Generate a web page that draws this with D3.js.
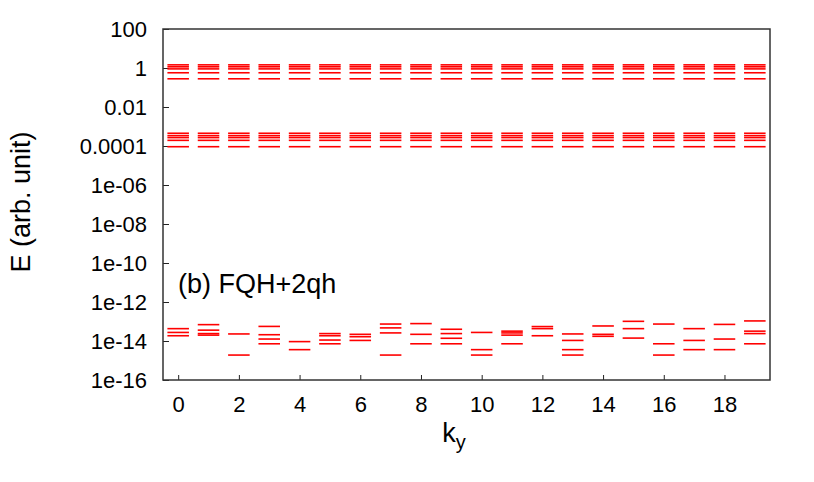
<!DOCTYPE html>
<html><head><meta charset="utf-8">
<script src="https://cdn.jsdelivr.net/npm/d3@7"></script>
<style>body{margin:0;background:#fff}svg{display:block}text{font-family:"Liberation Sans",Arial,Helvetica,sans-serif;fill:#000}</style>
</head><body>
<svg id="c" width="814" height="482"></svg>
<script>
const ky = [0,1,2,3,4,5,6,7,8,9,10,11,12,13,14,15,16,17,18,19];
const xTickLabels = [0,2,4,6,8,10,12,14,16,18];
const yTickValues = [1e2,1,1e-2,1e-4,1e-6,1e-8,1e-10,1e-12,1e-14,1e-16];
const yTickLabels = ["100","1","0.01","0.0001","1e-06","1e-08","1e-10","1e-12","1e-14","1e-16"];
// upper group of levels (same at every ky)
const topLevels = [1.45, 1.15, 0.9, 0.57, 0.28];
// middle group of levels (same at every ky)
const midLevels = [4.5e-4, 3.4e-4, 2.7e-4, 1.95e-4, 0.92e-4];
// lowest levels per ky
const lowLevels = [
  [4.3e-14, 2.75e-14, 1.86e-14],
  [6.9e-14, 3.6e-14, 2.4e-14, 2.0e-14],
  [2.3e-14, 1.9e-15],
  [5.6e-14, 2.1e-14, 1.26e-14, 7.2e-15],
  [9.3e-15, 3.6e-15],
  [2.4e-14, 1.86e-14, 1.12e-14, 7.2e-15],
  [2.2e-14, 1.66e-14, 1.07e-14],
  [7.4e-14, 4.7e-14, 2.6e-14, 1.9e-15],
  [7.8e-14, 2.2e-14, 7.2e-15],
  [4.0e-14, 2.4e-14, 1.38e-14, 7.2e-15],
  [2.75e-14, 3.6e-15, 1.9e-15],
  [3.2e-14, 2.6e-14, 2.0e-14, 7.2e-15],
  [5.5e-14, 4.3e-14, 1.86e-14],
  [2.3e-14, 1.07e-14, 3.6e-15, 1.9e-15],
  [5.9e-14, 2.2e-14, 1.74e-14],
  [1.02e-13, 4.3e-14, 1.41e-14],
  [7.4e-14, 7.2e-15, 1.9e-15],
  [4.3e-14, 1.07e-14, 3.6e-15],
  [7.1e-14, 1.26e-14, 3.6e-15],
  [1.07e-13, 3.2e-14, 2.4e-14, 7.2e-15]
];

const svg = d3.select("#c");
const L=163, R=770, T=29, B=380;
const x = d3.scaleLinear().domain([-0.5,19.5]).range([L,R]);
const y = d3.scaleLog().domain([1e-16,1e2]).range([B,T]);
const hw = 0.355;

const segs = [];
ky.forEach((k,i)=>{
  topLevels.forEach(v=>segs.push({k,v}));
  midLevels.forEach(v=>segs.push({k,v}));
  lowLevels[i].forEach(v=>segs.push({k,v}));
});

const yAxis = d3.axisLeft(y).tickValues(yTickValues).tickFormat((d,i)=>yTickLabels[i]).tickSizeInner(-6).tickSizeOuter(0).tickPadding(16);
const gy = svg.append("g").attr("transform",`translate(${L},0)`).call(yAxis);
gy.select(".domain").remove();
gy.selectAll("line").attr("stroke","#222").attr("stroke-width",1);
gy.selectAll("text").attr("font-size",22).attr("dy","0.36em");

const xAxis = d3.axisBottom(x).tickValues(xTickLabels).tickFormat(d=>String(d)).tickSizeInner(-5).tickSizeOuter(0).tickPadding(16);
const gx = svg.append("g").attr("transform",`translate(0,${B})`).call(xAxis);
gx.select(".domain").remove();
gx.selectAll("line").attr("stroke","#222").attr("stroke-width",1);
gx.selectAll("text").attr("font-size",22).attr("dy","0.72em");

svg.append("g").selectAll("line").data(segs).join("line")
  .attr("x1",d=>x(d.k-hw)).attr("x2",d=>x(d.k+hw))
  .attr("y1",d=>y(d.v)).attr("y2",d=>y(d.v))
  .attr("stroke","#ff0000").attr("stroke-width",1.6);

svg.append("rect").attr("x",L).attr("y",T).attr("width",R-L).attr("height",B-T)
  .attr("fill","none").attr("stroke","#333").attr("stroke-width",1.5);

svg.append("text").attr("x",178).attr("y",293).attr("font-size",27).text("(b) FQH+2qh");
svg.append("text").attr("transform","translate(30,202) rotate(-90)").attr("text-anchor","middle").attr("font-size",27).text("E (arb. unit)");
const xt = svg.append("text").attr("x",454).attr("y",442).attr("text-anchor","middle").attr("font-size",27);
xt.append("tspan").text("k");
xt.append("tspan").attr("font-size",20).attr("dy",7).text("y");
</script>
</body></html>
